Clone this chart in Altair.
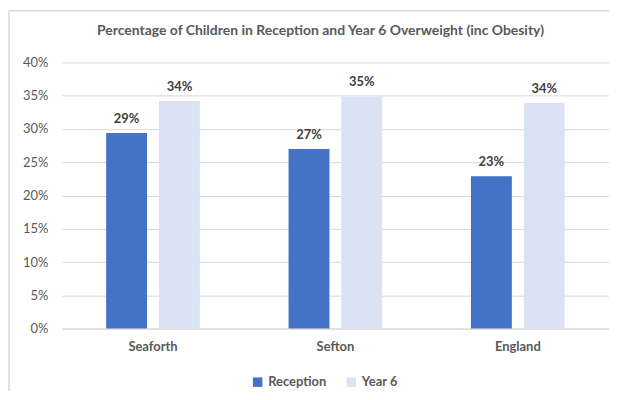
import altair as alt
import pandas as pd

areas = ["Seaforth", "Sefton", "England"]
series = ["Reception", "Year 6"]
reception = [0.294, 0.270, 0.229]
year6 = [0.342, 0.349, 0.339]
y_ticks = [0, 0.05, 0.10, 0.15, 0.20, 0.25, 0.30, 0.35, 0.40]
colors = ["#4472C4", "#DAE3F3"]
title_text = "Percentage of Children in Reception and Year 6 Overweight (inc Obesity)"

rows = []
for i, a in enumerate(areas):
    rows.append({"Area": a, "Group": series[0], "Value": reception[i]})
    rows.append({"Area": a, "Group": series[1], "Value": year6[i]})
df = pd.DataFrame(rows)

FONT = "Lato"
GREY = "#595959"

x = alt.X("Area:N", sort=areas, title=None,
          scale=alt.Scale(paddingInner=0.486, paddingOuter=0.243),
          axis=alt.Axis(labelAngle=0, ticks=False, domainColor="#D9D9D9", domainWidth=1,
                        labelFont=FONT, labelFontSize=13, labelFontWeight="bold",
                        labelColor=GREY, labelPadding=12))
xo = alt.XOffset("Group:N", sort=series,
                 scale=alt.Scale(paddingInner=0.226, paddingOuter=0))
y = alt.Y("Value:Q", title=None,
          scale=alt.Scale(domain=[0, 0.4], nice=False),
          axis=alt.Axis(values=y_ticks, format=".0%", ticks=False, domain=False,
                        gridColor="#D9D9D9", gridWidth=1, labelOverlap=False,
                        labelFont=FONT, labelFontSize=13, labelColor=GREY,
                        labelPadding=14))

bars = alt.Chart(df).mark_bar().encode(
    x=x, xOffset=xo, y=y,
    color=alt.Color("Group:N", sort=series,
                    scale=alt.Scale(domain=series, range=colors),
                    legend=alt.Legend(title=None, orient="none", direction="horizontal",
                                      legendX=190, legendY=314, symbolType="square",
                                      symbolSize=90, symbolStrokeWidth=0,
                                      labelFont=FONT, labelFontSize=13, labelColor=GREY,
                                      labelFontWeight="bold", columnPadding=18,
                                      labelOffset=4))
)

labels = alt.Chart(df).mark_text(baseline="alphabetic", dy=-10, font=FONT, fontSize=13,
                                 fontWeight="bold", color="#404040").encode(
    x=x, xOffset=xo, y=y, text=alt.Text("Value:Q", format=".0%")
)

frame_df = pd.DataFrame({"k": [0]})
frame_top = alt.Chart(frame_df).mark_rule(color="#D9D9D9", strokeWidth=1.5).encode(
    x=alt.value(-53), x2=alt.value(570), y=alt.value(-52))
frame_left = alt.Chart(frame_df).mark_rule(color="#D9D9D9", strokeWidth=1.5).encode(
    x=alt.value(-53), y=alt.value(-52), y2=alt.value(345))

chart = alt.layer(frame_top, frame_left, bars, labels).properties(
    width=549, height=267,
    title=alt.TitleParams(title_text, font=FONT, fontSize=14, fontWeight="bold",
                          color=GREY, anchor="middle", dx=-15, dy=28, offset=0),
    padding={"left": 54, "top": 54, "right": 0, "bottom": 62},
    autosize=alt.AutoSizeParams(type="none"),
).configure(background="white").configure_view(strokeWidth=0)

chart.save("out.html", embed_options={"renderer": "svg", "actions": False})
